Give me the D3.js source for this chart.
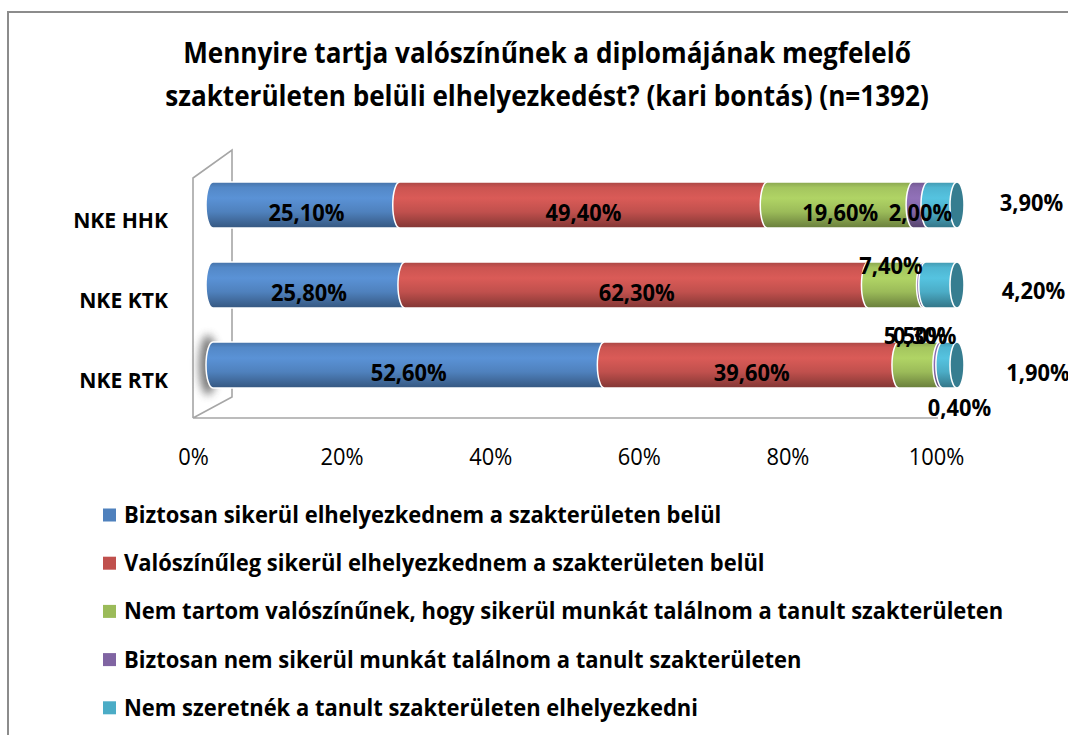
<!DOCTYPE html>
<html>
<head>
<meta charset="utf-8">
<script src="https://cdn.jsdelivr.net/npm/d3@7"></script>
<style>
  body { margin: 0; background: #fff; }
  svg { display: block; }
  text { font-family: "Open Sans", "Noto Sans", sans-serif; }
</style>
</head>
<body>
<svg id="chart" width="1068" height="735"></svg>
<script>
// chart data
var titleLines = [
  "Mennyire tartja valószínűnek a diplomájának megfelelő",
  "szakterületen belüli elhelyezkedést? (kari bontás) (n=1392)"
];
var categories = ["NKE HHK", "NKE KTK", "NKE RTK"];
var seriesNames = [
  "Biztosan sikerül elhelyezkednem a szakterületen belül",
  "Valószínűleg sikerül elhelyezkednem a szakterületen belül",
  "Nem tartom valószínűnek, hogy sikerül munkát találnom a tanult szakterületen",
  "Biztosan nem sikerül munkát találnom a tanult szakterületen",
  "Nem szeretnék a tanult szakterületen elhelyezkedni"
];
var seriesColors = ["#4f81bd", "#c0504d", "#9bbb59", "#8064a2", "#4bacc6"];
var biztosan     = [25.1, 25.8, 52.6];
var valoszinuleg = [49.4, 62.3, 39.6];
var nemTartom    = [19.6, 7.4, 5.5];
var biztosanNem  = [2.0, 0.3, 0.4];
var nemSzeretnek = [3.9, 4.2, 1.9];
var xTicks = [0, 20, 40, 60, 80, 100];

// excel pushed some labels off their segments: [series, category, dx, dy]
var labelNudges = [
  [4, 0, 89, -10],
  [2, 1, -5, -27],
  [3, 1, 0, 43],
  [4, 1, 92, -2],
  [2, 2, -4, -37],
  [3, 2, 18, 35],
  [4, 2, 88, 0]
];

var seriesValues = [biztosan, valoszinuleg, nemTartom, biztosanNem, nemSzeretnek];
var keys = seriesNames.map(function(d, i) { return "s" + i; });
var rows = categories.map(function(c, ci) {
  var r = { cat: c };
  seriesValues.forEach(function(v, si) { r["s" + si] = v[ci]; });
  return r;
});
var stacked = d3.stack().keys(keys)(rows);

var svg = d3.select("#chart");
var fmt = function(v) { return v.toFixed(2).replace(".", ",") + "%"; };

// squeeze text a bit, the original font is narrower
function condense(sel, k) {
  sel.each(function() {
    var w = this.getComputedTextLength();
    d3.select(this).attr("textLength", w * k).attr("lengthAdjust", "spacingAndGlyphs");
  });
}

// frame
svg.append("path")
  .attr("d", "M8,740V12H1075")
  .attr("fill", "none")
  .attr("stroke", "#8c8c8c")
  .attr("stroke-width", 2);

// title
svg.append("g").selectAll("text")
  .data(titleLines)
  .enter().append("text")
  .attr("x", 547)
  .attr("y", function(d, i) { return 63 + i * 43; })
  .attr("text-anchor", "middle")
  .attr("font-size", 29)
  .attr("font-weight", "bold")
  .attr("fill", "#000")
  .text(function(d) { return d; })
  .call(condense, 0.9);

// scales
var xBar = d3.scaleLinear().domain([0, 100]).range([213, 957]);
var xAxis = d3.scaleLinear().domain([0, 100]).range([193, 936]);
var y = d3.scaleBand().domain(categories).range([165, 405]);
var barH = 46, capRx = 7;

// 3d wall + floor edge
var wall = svg.append("g").attr("fill", "none").attr("stroke", "#a6a6a6").attr("stroke-width", 1.6);
wall.append("path").attr("d",
  "M" + xAxis(0) + ",418V178L232,150V397L" + xAxis(0) + ",418H" + (xAxis(100) + 2));

// gradients for the cylinders
var defs = svg.append("defs");
seriesColors.forEach(function(c, i) {
  var base = d3.color(c);
  var g = defs.append("linearGradient")
    .attr("id", "grad" + i)
    .attr("x1", 0).attr("y1", 0).attr("x2", 0).attr("y2", 1);
  g.append("stop").attr("offset", "0%").attr("stop-color", base.darker(0.35));
  g.append("stop").attr("offset", "12%").attr("stop-color", base.brighter(0.15));
  g.append("stop").attr("offset", "35%").attr("stop-color", base.brighter(0.35));
  g.append("stop").attr("offset", "65%").attr("stop-color", base);
  g.append("stop").attr("offset", "100%").attr("stop-color", base.darker(1.1));
});
var blur = defs.append("filter").attr("id", "shadow")
  .attr("x", "-200%").attr("y", "-50%").attr("width", "500%").attr("height", "200%");
blur.append("feGaussianBlur").attr("stdDeviation", 4);

function cylinder(x0, x1, yc) {
  var ry = barH / 2, t = yc - ry, b = yc + ry;
  return "M" + x0 + "," + t + "L" + x1 + "," + t +
    "A" + capRx + "," + ry + " 0 0 1 " + x1 + "," + b +
    "L" + x0 + "," + b +
    "A" + capRx + "," + ry + " 0 0 1 " + x0 + "," + t + "Z";
}

// selection glow on the RTK bar
svg.append("ellipse")
  .attr("cx", xBar(0) - 5)
  .attr("cy", y("NKE RTK") + y.bandwidth() / 2)
  .attr("rx", 9).attr("ry", 30)
  .attr("fill", "#6e6e6e")
  .attr("opacity", 0.9)
  .attr("filter", "url(#shadow)");

// bars: draw each category left to right so each segment covers the previous end
var bars = svg.append("g");
categories.forEach(function(cat, ci) {
  var yc = y(cat) + y.bandwidth() / 2;
  stacked.forEach(function(layer, si) {
    var d = layer[ci];
    bars.append("path")
      .attr("d", cylinder(xBar(d[0]), xBar(d[1]), yc))
      .attr("fill", "url(#grad" + si + ")")
      .attr("stroke", "#fff")
      .attr("stroke-width", 1.5);
  });
  var last = stacked[stacked.length - 1][ci][1];
  bars.append("ellipse")
    .attr("cx", xBar(last)).attr("cy", yc)
    .attr("rx", capRx).attr("ry", barH / 2)
    .attr("fill", d3.color(seriesColors[4]).darker(0.9))
    .attr("stroke", "#fff")
    .attr("stroke-width", 1.5);
});

// category labels
svg.append("g").selectAll("text")
  .data(categories)
  .enter().append("text")
  .attr("x", 168)
  .attr("y", function(d) { return y(d) + y.bandwidth() / 2 + 15; })
  .attr("dy", "0.35em")
  .attr("text-anchor", "end")
  .attr("font-size", 22)
  .attr("font-weight", "bold")
  .text(function(d) { return d; })
  .call(condense, 0.96);

// data labels
var labelData = [];
stacked.forEach(function(layer, si) {
  layer.forEach(function(d, ci) {
    var nx = 0, ny = 0;
    labelNudges.forEach(function(n) {
      if (n[0] === si && n[1] === ci) { nx = n[2]; ny = n[3]; }
    });
    labelData.push({
      v: d[1] - d[0],
      x: xBar((d[0] + d[1]) / 2) + nx,
      y: y(categories[ci]) + y.bandwidth() / 2 + 8 + ny
    });
  });
});
svg.append("g").selectAll("text")
  .data(labelData)
  .enter().append("text")
  .attr("x", function(d) { return d.x; })
  .attr("y", function(d) { return d.y; })
  .attr("dy", "0.35em")
  .attr("text-anchor", "middle")
  .attr("font-size", 23)
  .attr("font-weight", "bold")
  .attr("fill", "#000")
  .text(function(d) { return fmt(d.v); })
  .call(condense, 0.95);

// x axis
var ax = svg.append("g")
  .attr("transform", "translate(0,449)")
  .call(d3.axisBottom(xAxis)
    .tickValues(xTicks)
    .tickSize(0)
    .tickPadding(0)
    .tickFormat(function(d) { return d + "%"; }));
ax.select(".domain").remove();
ax.selectAll("text")
  .attr("font-family", "\"Open Sans\", sans-serif")
  .attr("font-size", 23)
  .attr("fill", "#000")
  .call(condense, 0.95);

// legend
var legend = svg.append("g").selectAll("g")
  .data(seriesNames)
  .enter().append("g")
  .attr("transform", function(d, i) { return "translate(103," + (515 + i * 48.2) + ")"; });
legend.append("rect")
  .attr("x", 0).attr("y", -6.5)
  .attr("width", 13).attr("height", 13)
  .attr("fill", function(d, i) { return seriesColors[i]; });
legend.append("text")
  .attr("x", 21)
  .attr("dy", "0.35em")
  .attr("font-size", 23)
  .attr("font-weight", "bold")
  .text(function(d) { return d; })
  .call(condense, 0.955);
</script>
</body>
</html>
